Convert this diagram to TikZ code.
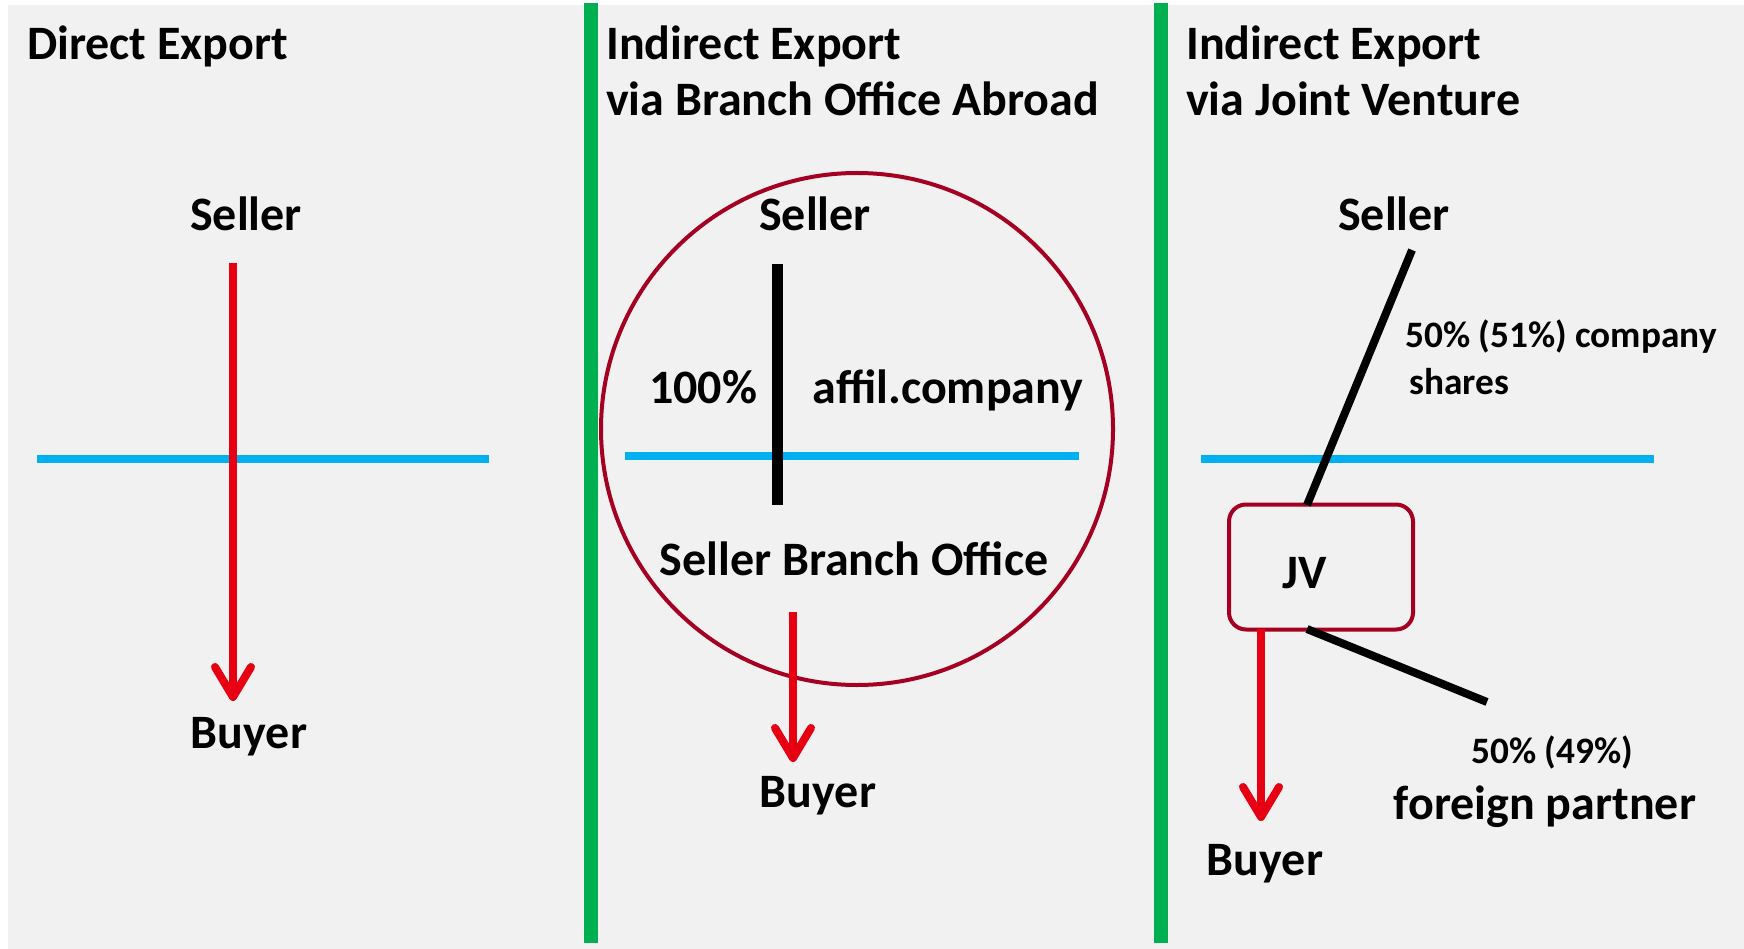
\documentclass[tikz,border=0pt]{standalone}
\usepackage{fontspec}
\setmainfont{Carlito}
\usetikzlibrary{arrows.meta}
\definecolor{bg}{HTML}{F1F1F1}
\definecolor{sepgreen}{HTML}{00B050}
\definecolor{lineblue}{HTML}{00B0F0}
\definecolor{flowred}{HTML}{E60012}
\definecolor{darkred}{HTML}{A50021}
\begin{document}
\begin{tikzpicture}[x=1pt,y=-1pt,
  title/.style={font=\bfseries\fontsize{48}{56}\selectfont, inner sep=0, anchor=base west, align=left},
  big/.style={font=\bfseries\fontsize{48}{57}\selectfont, inner sep=0, anchor=base},
  small/.style={font=\bfseries\fontsize{37.3}{44}\selectfont, inner sep=0, anchor=base west},
  flow/.style={draw=flowred, line width=8, -{Straight Barb[length=30,width=36,round]}},
  border/.style={draw=lineblue, line width=8},
  sepline/.style={draw=sepgreen, line width=14},
  share/.style={draw=black, line width=8},
  owner/.style={draw=black, line width=11}]
\useasboundingbox (0,0) rectangle (1744,949);
\fill[bg] (8,5) rectangle (1744,949);

% separators
\coordinate (g1a) at (591,3); \coordinate (g1b) at (591,943);
\coordinate (g2a) at (1161,3); \coordinate (g2b) at (1161,943);
\draw[sepline] (g1a) -- (g1b);
\draw[sepline] (g2a) -- (g2b);

% titles
\node[title] (t1) at (27,60) {Direct Export};
\node[title] (t2) at (606,116) {Indirect Export\\via Branch Office Abroad};
\node[title] (t3) at (1186,116) {Indirect Export\\via Joint Venture};

% ---- Direct export
\node[big] (seller1) at (246,231) {Seller};
\node[big] (buyer1) at (249,748) {Buyer};
\coordinate (b1a) at (37,459); \coordinate (b1b) at (489,459);
\draw[border] (b1a) -- (b1b);
\coordinate (f1a) at (233,263); \coordinate (f1b) at (233,701);
\draw[flow] (f1a) -- (f1b);

% ---- Branch office
\node[circle, draw=darkred, line width=4, minimum size=512, inner sep=0] (office) at (857,429) {};
\node[big] (seller2) at (815,231) {Seller};
\node[big] (pct) at (703,403) {100\%};
\node[big] (affil) at (948,403) {affil.company};
\coordinate (b2a) at (625,456); \coordinate (b2b) at (1079,456);
\draw[border] (b2a) -- (b2b);
\coordinate (o2a) at (777,264); \coordinate (o2b) at (777,505);
\draw[owner] (o2a) -- (o2b);
\node[big] (branch) at (854,575) {Seller Branch Office};
\coordinate (f2a) at (793,612); \coordinate (f2b) at (793,762);
\draw[flow] (f2a) -- (f2b);
\node[big] (buyer2) at (818,807) {Buyer};

% ---- Joint venture
\node[big] (seller3) at (1394,231) {Seller};
\coordinate (b3a) at (1201,459); \coordinate (b3b) at (1654,459);
\draw[border] (b3a) -- (b3b);
\node[draw=darkred, line width=4, rounded corners=17, minimum width=184, minimum height=125, inner sep=0] (jvbox) at (1321,567) {};
\node[big] (jv) at (1305,588) {JV};
\coordinate (s3a) at (1412,250); \coordinate (s3b) at (1307,505);
\draw[share] (s3a) -- (s3b);
\node[small] (shares1) at (1405,347) {50\% (51\%) company};
\node[small] (shares2) at (1409,394) {shares};
\coordinate (p3a) at (1307,629); \coordinate (p3b) at (1487,702);
\draw[share] (p3a) -- (p3b);
\node[small, anchor=base] (partner1) at (1552,763) {50\% (49\%)};
\node[big] (partner2) at (1545,819) {foreign partner};
\coordinate (f3a) at (1261,629); \coordinate (f3b) at (1261,821);
\draw[flow] (f3a) -- (f3b);
\node[big] (buyer3) at (1265,875) {Buyer};
\end{tikzpicture}
\end{document}
